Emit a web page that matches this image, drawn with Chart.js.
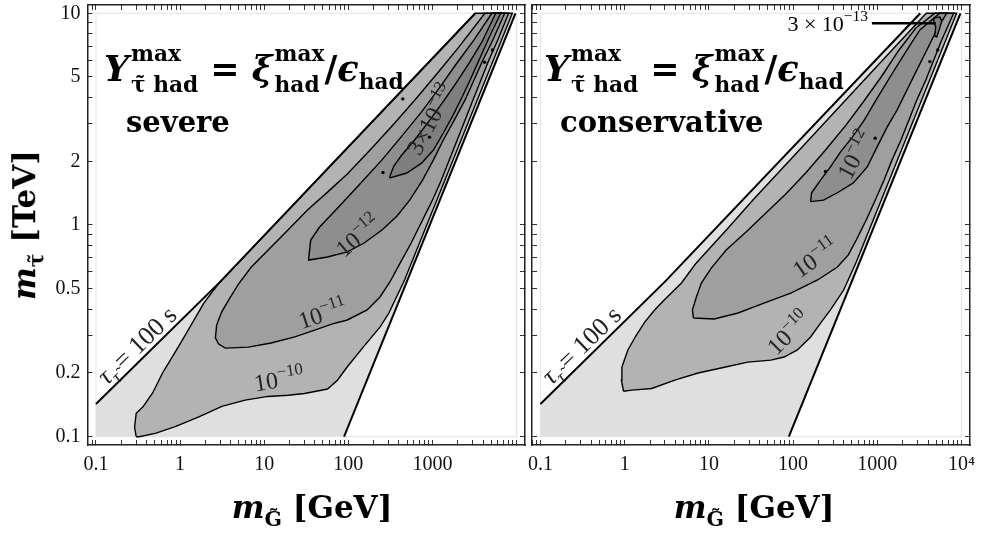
<!DOCTYPE html>
<html><head><meta charset="utf-8"><title>Y max stau had</title>
<script src="https://cdn.jsdelivr.net/npm/chart.js@4/dist/chart.umd.min.js"></script>
<style>
html,body{margin:0;padding:0;background:#fff}
#wrap{position:relative;width:982px;height:533px;overflow:hidden;background:#fff}
.cv{position:absolute;top:0;height:533px}
.t{position:absolute;font-family:"DejaVu Serif","Liberation Serif",serif;font-weight:bold;color:#000;white-space:nowrap;line-height:1}
.bi{font-style:italic}
.frm{font-size:35px}
.st{display:inline-block;vertical-align:-0.5em;font-size:0.62em;line-height:1.42;margin-left:2px;text-align:left}
.st span{display:block}
.sb{font-size:0.62em;vertical-align:-0.35em}
.lab{font-size:29px}
.ax{font-size:31px}
.ax sub{font-size:0.66em;vertical-align:-0.4em}
</style></head>
<body>
<div id="wrap">
  <div class="cv" style="left:0;width:529px"><canvas id="c1"></canvas></div>
  <div class="cv" style="left:528px;width:454px"><canvas id="c2"></canvas></div>

  <div class="t frm" style="left:104px;top:39px"><span class="bi">Y</span><span class="st"><span>max</span><span>τ̃ had</span></span> = <span class="bi">ξ</span><span class="st"><span>max</span><span>had</span></span>/<span class="bi">ϵ</span><span class="sb">had</span></div>
  <div class="t lab" style="left:126px;top:108px">severe</div>

  <div class="t frm" style="left:544px;top:39px"><span class="bi">Y</span><span class="st"><span>max</span><span>τ̃ had</span></span> = <span class="bi">ξ</span><span class="st"><span>max</span><span>had</span></span>/<span class="bi">ϵ</span><span class="sb">had</span></div>
  <div class="t lab" style="left:560px;top:108px">conservative</div>

  <div class="t ax" style="left:28px;top:225px;transform:translate(-50%,-50%) rotate(-90deg)"><span class="bi">m</span><sub>τ̃</sub> [TeV]</div>
  <div class="t ax" style="left:312px;top:511px;transform:translate(-50%,-50%)"><span class="bi">m</span><sub>G̃</sub> [GeV]</div>
  <div class="t ax" style="left:754px;top:511px;transform:translate(-50%,-50%)"><span class="bi">m</span><sub>G̃</sub> [GeV]</div>
</div>
<script>
// ---------- axes ----------
const xMin = 0.0794, xMax = 12590;
const yMin = 0.0914, yMax = 10.94;
const xMajor = [0.1, 1, 10, 100, 1000, 10000];
const xLabelsLeft = ['0.1', '1', '10', '100', '1000', ''];
const xLabelsRight = ['0.1', '1', '10', '100', '1000', '10⁴'];
const yMajor = [0.1, 0.2, 0.5, 1, 2, 5, 10];
const yLabels = ['0.1', '0.2', '0.5', '1', '2', '5', '10'];

// ---------- common boundaries (m_G [GeV], m_stau [TeV]) ----------
const plotRange = [[0.1, 0.1], [0.1, 10], [10000, 10], [10000, 0.1], [0.1, 0.1]];
const tauLine = [[0.1, 0.1427], [3.01, 0.54], [3230, 10]];
const kinBound = [[89, 0.1], [9700, 10]];
const allowed = [[0.1, 0.1], [0.1, 0.1427], [3.01, 0.54], [3230, 10], [9700, 10], [89, 0.1]];

// ---------- severe: contours of Y ----------
const sevC10 = [[0.301,0.1],[0.288,0.111],[0.301,0.129],[0.360,0.138],[0.472,0.161],[0.619,0.200],[0.812,0.239],[1.064,0.286],[1.395,0.344],[1.916,0.428],[2.512,0.493],[3.01,0.540],[3230,10],[8900,10],[466,0.55],[304,0.384],[240,0.331],[153,0.267],[97.3,0.214],[74.2,0.185],[56.6,0.168],[30.1,0.160],[19.2,0.157],[11.1,0.155],[5.93,0.149],[3.14,0.139],[1.67,0.124],[0.890,0.112],[0.518,0.104],[0.329,0.1]];
const sevC11 = [[2.63,0.293],[2.724,0.337],[3.12,0.388],[3.771,0.442],[4.944,0.526],[7.03,0.633],[11.15,0.762],[19.16,0.947],[32.93,1.18],[56.6,1.43],[97.3,1.74],[181.5,2.26],[347.7,3.00],[648.4,3.98],[1177,5.28],[2023,6.86],[4203,10],[8054,10],[5977,7.48],[4684,6.02],[3771,4.84],[3037,3.90],[2444,3.13],[1969,2.52],[1585,2.03],[1276,1.63],[1000,1.31],[722.6,1.011],[551,0.813],[420.3,0.669],[312,0.538],[237.9,0.457],[167.3,0.397],[97.3,0.356],[64.8,0.341],[39.81,0.319],[23.16,0.296],[12.09,0.277],[6.48,0.265],[3.449,0.262],[2.876,0.274]];
const sevC12 = [[33.83,0.698],[35.72,0.849],[45.6,0.978],[74.2,1.20],[134.7,1.55],[251.2,2.03],[431.9,2.63],[742.4,3.42],[1209,4.44],[1916,5.76],[3120,7.48],[5080,10],[7226,10],[5219,7.48],[3981,6.02],[3120,4.84],[2444,3.90],[1815,3.13],[1347,2.52],[1027,2.03],[762.8,1.63],[536.3,1.31],[377.2,1.10],[251.2,0.947],[154.2,0.822],[97.3,0.746],[56.6,0.706],[33.83,0.683]];
const sevC13 = [[312,1.70],[347.7,1.90],[431.9,2.14],[614.1,2.52],[897.5,3.07],[1311,3.77],[1916,4.69],[2724,5.82],[3874,7.32],[5661,10],[6482,10],[4684,7.64],[3671,6.15],[2876,4.95],[2254,4.02],[1767,3.31],[1347,2.72],[1027,2.26],[742.4,1.96],[494.5,1.76],[312,1.67]];
const sevIslands = [[258,1.77],[444,3.94],[922,2.60],[4170,5.87],[5180,6.71]];

// ---------- conservative: contours of Y ----------
const conC10 = [[0.970,0.164],[0.914,0.185],[0.927,0.213],[1.091,0.257],[1.356,0.299],[1.730,0.348],[2.270,0.397],[2.947,0.442],[4.727,0.532],[6.912,0.654],[16.93,0.968],[33.11,1.31],[71.4,1.82],[152.8,2.52],[326.8,3.49],[698.9,4.84],[1495,6.71],[3815,10],[8730,10],[562.3,0.669],[398.3,0.493],[277.5,0.397],[211.6,0.344],[161.3,0.296],[112.4,0.257],[78.1,0.238],[54.4,0.230],[28.92,0.225],[15.31,0.213],[7.439,0.200],[3.940,0.185],[2.093,0.169],[1.216,0.166]];
const conC11 = [[6.546,0.364],[6.371,0.397],[7.103,0.457],[8.136,0.532],[10.67,0.626],[16.04,0.762],[27.61,0.927],[47.5,1.14],[81.8,1.40],[140.8,1.76],[242.3,2.26],[417.2,2.94],[680.2,3.81],[1109,5.00],[1808,6.71],[2868,8.52],[4805,10],[8050,10],[5810,7.48],[4676,6.02],[3763,4.84],[2947,3.90],[2371,3.13],[1909,2.52],[1495,2.03],[1203,1.63],[942.2,1.31],[737.9,1.055],[562.3,0.849],[452.6,0.722],[335.7,0.633],[195.0,0.550],[93.7,0.477],[45.0,0.428],[22.22,0.384],[11.58,0.360]];
const conC12 = [[161.3,1.29],[165.7,1.42],[211.6,1.63],[277.5,1.88],[364.1,2.21],[504.5,2.60],[698.9,3.13],[967.9,3.90],[1416,5.00],[2127,6.49],[3197,8.34],[5504,10],[6655,10],[5074,8.34],[3867,6.71],[2947,5.40],[2246,4.34],[1712,3.49],[1305,2.90],[994.5,2.34],[758.1,1.88],[518.4,1.58],[335.7,1.42],[229.5,1.31]];
const conC13 = [[4676,9.50],[5504,9.61],[5810,9.20],[5504,8.52],[5074,7.73],[4805,7.81],[4937,8.62],[4676,9.10]];
const conIslands = [[942,2.57],[242,1.79],[4195,5.91],[5212,6.71]];
const conCallout = [[861,8.97],[4937,8.97]];

// ---------- contour labels (anchor x, y, angle) ----------
const sevLabels = [
  {x: 15.0, y: 0.186, a: -9, parts: [['10',0],['−10',1]]},
  {x: 49.4, y: 0.380, a: -18, parts: [['10',0],['−11',1]]},
  {x: 131, y: 0.887, a: -40, parts: [['10',0],['−12',1]]},
  {x: 950, y: 3.15, a: -62, parts: [['3×10',0],['−13',1]]},
  {x: 0.305, y: 0.271, a: -44, size: 26, parts: [['τ',0,'italic '],['τ̃',-1,'italic '],[' = 100 s',0]]}
];
const conLabels = [
  {x: 88.8, y: 0.309, a: -45, parts: [['10',0],['−10',1]]},
  {x: 184.6, y: 0.698, a: -35, parts: [['10',0],['−11',1]]},
  {x: 547, y: 2.14, a: -62, parts: [['10',0],['−12',1]]},
  {x: 0.305, y: 0.271, a: -44, size: 26, parts: [['τ',0,'italic '],['τ̃',-1,'italic '],[' = 100 s',0]]},
  {x: 861, y: 8.97, a: 0, dx: -4, align: 'right', size: 22, color: '#000', parts: [['3 × 10',0],['−13',1]]}
];

// ---------- colours ----------
const colAllowed = '#dfdfdf', col10 = '#b3b3b3', col11 = '#9f9f9f', col12 = '#8e8e8e', col13 = '#7f7f7f';

const pts = a => a.map(p => ({x: p[0], y: p[1]}));
const closed = a => a.concat([a[0]]);
function poly(arr, color, order) {
  return {data: pts(closed(arr)), showLine: true, fill: 'shape', backgroundColor: color,
          borderColor: '#000', borderWidth: 1.4, pointRadius: 0, order};
}
function lineDs(arr, width, order, color) {
  return {data: pts(arr), showLine: true, fill: false, borderColor: color || '#000',
          borderWidth: width, pointRadius: 0, order};
}

function drawRich(ctx, L, px, py) {
  const size = L.size || 24;
  const fam = '"Liberation Serif","DejaVu Serif",serif';
  const fs = p => (p[1] ? size * 0.7 : size);
  const font = p => (p[2] || '') + fs(p) + 'px ' + fam;
  ctx.save();
  ctx.translate(px + (L.dx || 0), py);
  ctx.rotate(L.a * Math.PI / 180);
  ctx.fillStyle = L.color || '#222';
  ctx.textBaseline = 'alphabetic';
  let w = 0;
  for (const p of L.parts) { ctx.font = font(p); w += ctx.measureText(p[0]).width; }
  let cx = L.align === 'right' ? -w : -w / 2;
  for (const p of L.parts) {
    ctx.font = font(p);
    const dy = p[1] === 1 ? -size * 0.42 : (p[1] === -1 ? size * 0.25 : 0);
    ctx.fillText(p[0], cx, size * 0.33 + dy);
    cx += ctx.measureText(p[0]).width;
  }
  ctx.restore();
}
const textPlugin = {
  id: 'richText',
  afterDatasetsDraw(chart, args, opts) {
    const xs = chart.scales.x, ys = chart.scales.y;
    for (const L of (opts.items || [])) {
      drawRich(chart.ctx, L, xs.getPixelForValue(L.x), ys.getPixelForValue(L.y));
    }
  }
};

const xTickValues = [];
[0.01, 0.1, 1, 10, 100, 1000].forEach(d => { for (let k = 1; k <= 9; k++) { const v = +(d * k).toPrecision(3); if (v >= xMin && v <= xMax) xTickValues.push(v); } });
xTickValues.push(10000);
const yTickValues = [];
[0.1, 1].forEach(d => { for (let k = 1; k <= 9; k++) { const v = +(d * k).toPrecision(3); if (v >= yMin) yTickValues.push(v); } });
yTickValues.push(10);

function axis(pos, isX, size, showLabels, labels) {
  const vals = isX ? xTickValues : yTickValues;
  const major = isX ? xMajor : yMajor;
  return {
    type: 'logarithmic', position: pos, bounds: 'data',
    min: isX ? xMin : yMin, max: isX ? xMax : yMax,
    afterBuildTicks: s => { s.ticks = vals.map(v => ({value: v, major: major.includes(v)})); },
    afterFit: s => {
      if (isX) s.height = size; else s.width = size;
      s.paddingLeft = 0; s.paddingRight = 0; s.paddingTop = 0; s.paddingBottom = 0;
    },
    grid: {drawOnChartArea: false, drawTicks: true, tickLength: -5, color: '#333', lineWidth: 1},
    border: {display: true, color: '#222', width: 1.5},
    ticks: {
      display: showLabels, autoSkip: false, maxRotation: 0, minRotation: 0,
      padding: isX ? 13 : 12, color: '#111',
      font: {family: '"Liberation Serif","DejaVu Serif",serif', size: 20},
      callback: v => { const i = major.indexOf(v); return i >= 0 ? labels[i] : ''; }
    }
  };
}

function makeChart(id, left) {
  const c10 = left ? sevC10 : conC10, c11 = left ? sevC11 : conC11,
        c12 = left ? sevC12 : conC12, c13 = left ? sevC13 : conC13;
  const datasets = [
    {data: pts(plotRange), showLine: true, fill: false, borderColor: '#e3e3e3', borderWidth: 1, pointRadius: 0, order: 30},
    {data: pts(closed(allowed)), showLine: true, fill: 'shape', backgroundColor: colAllowed, borderColor: 'rgba(0,0,0,0)', borderWidth: 1, pointRadius: 0, order: 29},
    poly(c10, col10, 28), poly(c11, col11, 27), poly(c12, col12, 26), poly(c13, col13, 25),
    lineDs(tauLine, 2, 10), lineDs(kinBound, 2, 10),
    {data: pts(left ? sevIslands : conIslands), showLine: false, pointRadius: 1.7, pointBackgroundColor: '#000', pointBorderWidth: 0, order: 5}
  ];
  if (!left) datasets.push(lineDs(conCallout, 2.6, 1));
  return new Chart(document.getElementById(id), {
    type: 'scatter',
    data: {datasets},
    options: {
      responsive: true, maintainAspectRatio: false, animation: false, events: [],
      layout: {padding: {top: 5, bottom: 0, left: 0, right: left ? 0.5 : 12}},
      elements: {line: {tension: 0}},
      plugins: {legend: {display: false}, tooltip: {enabled: false},
                richText: {items: left ? sevLabels : conLabels}},
      scales: {
        x: axis('bottom', true, 88, true, left ? xLabelsLeft : xLabelsRight),
        x2: axis('top', true, 0, false, xLabelsLeft),
        y: axis('left', false, left ? 87.5 : 0.5, left, yLabels),
        y2: axis('right', false, 0, false, yLabels)
      }
    },
    plugins: [textPlugin]
  });
}
makeChart('c1', true);
makeChart('c2', false);
</script>
</body></html>
